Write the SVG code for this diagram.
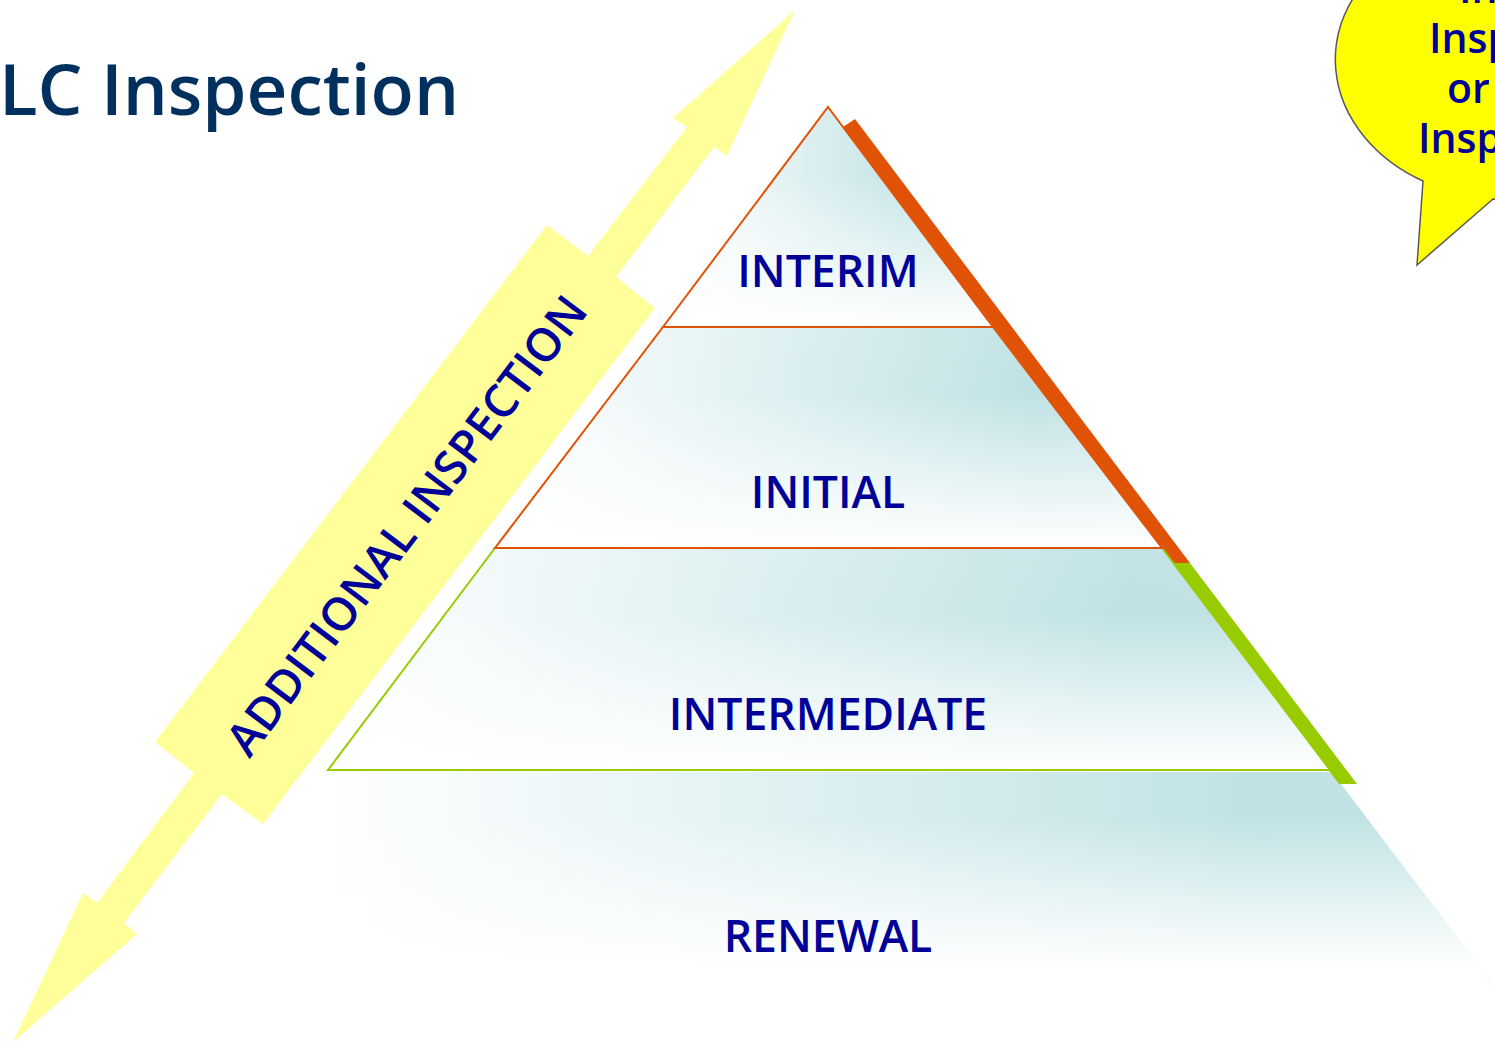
<svg xmlns="http://www.w3.org/2000/svg" width="1495" height="1042" viewBox="0 0 1495 1042">
  <defs>
    <linearGradient id="hz" x1="0" y1="0" x2="1" y2="0">
      <stop offset="0" stop-color="#ffffff"/>
      <stop offset="0.8" stop-color="#c0e2e4"/>
      <stop offset="1" stop-color="#c3e3e5"/>
    </linearGradient>
    <linearGradient id="vt" x1="0" y1="0" x2="0" y2="1">
      <stop offset="0" stop-color="#ffffff" stop-opacity="0.05"/>
      <stop offset="0.3" stop-color="#ffffff" stop-opacity="0"/>
      <stop offset="1" stop-color="#ffffff" stop-opacity="1"/>
    </linearGradient>
    <linearGradient id="vtr" x1="0" y1="0" x2="0" y2="1">
      <stop offset="0" stop-color="#ffffff" stop-opacity="0"/>
      <stop offset="0.2" stop-color="#ffffff" stop-opacity="0"/>
      <stop offset="0.9" stop-color="#ffffff" stop-opacity="1"/>
      <stop offset="1" stop-color="#ffffff" stop-opacity="1"/>
    </linearGradient>
    <style>
      .lbl { font-family: "Open Sans", "Noto Sans", "DejaVu Sans", sans-serif; font-size: 44.5px; font-weight: 600; fill: #000099; text-anchor: middle; }
      .bub { font-family: "Open Sans", "Noto Sans", "DejaVu Sans", sans-serif; font-size: 41px; font-weight: 600; fill: #000099; }
      .title { font-family: "Open Sans", "Noto Sans", "DejaVu Sans", sans-serif; font-size: 71px; font-weight: 600; fill: #00305e; }
      .orange { stroke: #e05206; stroke-width: 2; }
      .green { stroke: #99cc00; stroke-width: 2; }
    </style>
  </defs>
  <rect width="1495" height="1042" fill="#ffffff"/>

  <g id="title">
    <text class="title" x="-1" y="115">LC Inspection</text>
  </g>

  <g id="renewal">
    <polygon points="318,772 1332,772 1497,990 318,990" fill="url(#hz)"/>
    <polygon points="318,772 1332,772 1497,990 318,990" fill="url(#vtr)"/>
    <text class="lbl" x="828" y="952">RENEWAL</text>
  </g>

  <g id="bands">
    <polygon points="843,127 855,119 1190,563 1172,563" fill="#e05206"/>
    <polygon points="1172,563 1190,563 1357,784 1339,784" fill="#99cc00"/>
  </g>

  <g id="intermediate">
    <polygon points="495,548 1162,548 1330,770 328,770" fill="url(#hz)"/>
    <polygon points="495,548 1162,548 1330,770 328,770" fill="url(#vt)" class="green"/>
    <text class="lbl" x="828" y="730">INTERMEDIATE</text>
  </g>

  <g id="initial">
    <polygon points="663,327 993,327 1162,548 495,548" fill="url(#hz)"/>
    <polygon points="663,327 993,327 1162,548 495,548" fill="url(#vt)" class="orange"/>
    <text class="lbl" x="828" y="508">INITIAL</text>
  </g>

  <g id="interim">
    <polygon points="828,107 993,327 663,327" fill="url(#hz)"/>
    <polygon points="828,107 993,327 663,327" fill="url(#vt)" class="orange"/>
    <text class="lbl" x="828" y="287">INTERIM</text>
  </g>

  <g id="connectors">
    <g id="additional-inspection">
      <polygon fill="#ffff99" points="795,10 727,156 714,147 616,277 655,308 263,824 222,794 124,923 137,934 13,1042 83,893 97,903 194,773 155,742 547,225 588,256 687,127 673,118"/>
      <text class="lbl" style="font-size:46px" transform="translate(406,525) rotate(-52.8)" x="0" y="17">ADDITIONAL INSPECTION</text>
    </g>
  </g>

  <g id="callout">
    <path d="M1493,199 L1417,265 L1423,181 A175,140 0 1 1 1493,199 Z" fill="#ffff00" stroke="#595959" stroke-width="1.5"/>
    <text class="bub" x="1459" y="3">In</text>
    <text class="bub" x="1429" y="53">Insp</text>
    <text class="bub" x="1447" y="103">or</text>
    <text class="bub" x="1418" y="153">Insp</text>
  </g>
</svg>
